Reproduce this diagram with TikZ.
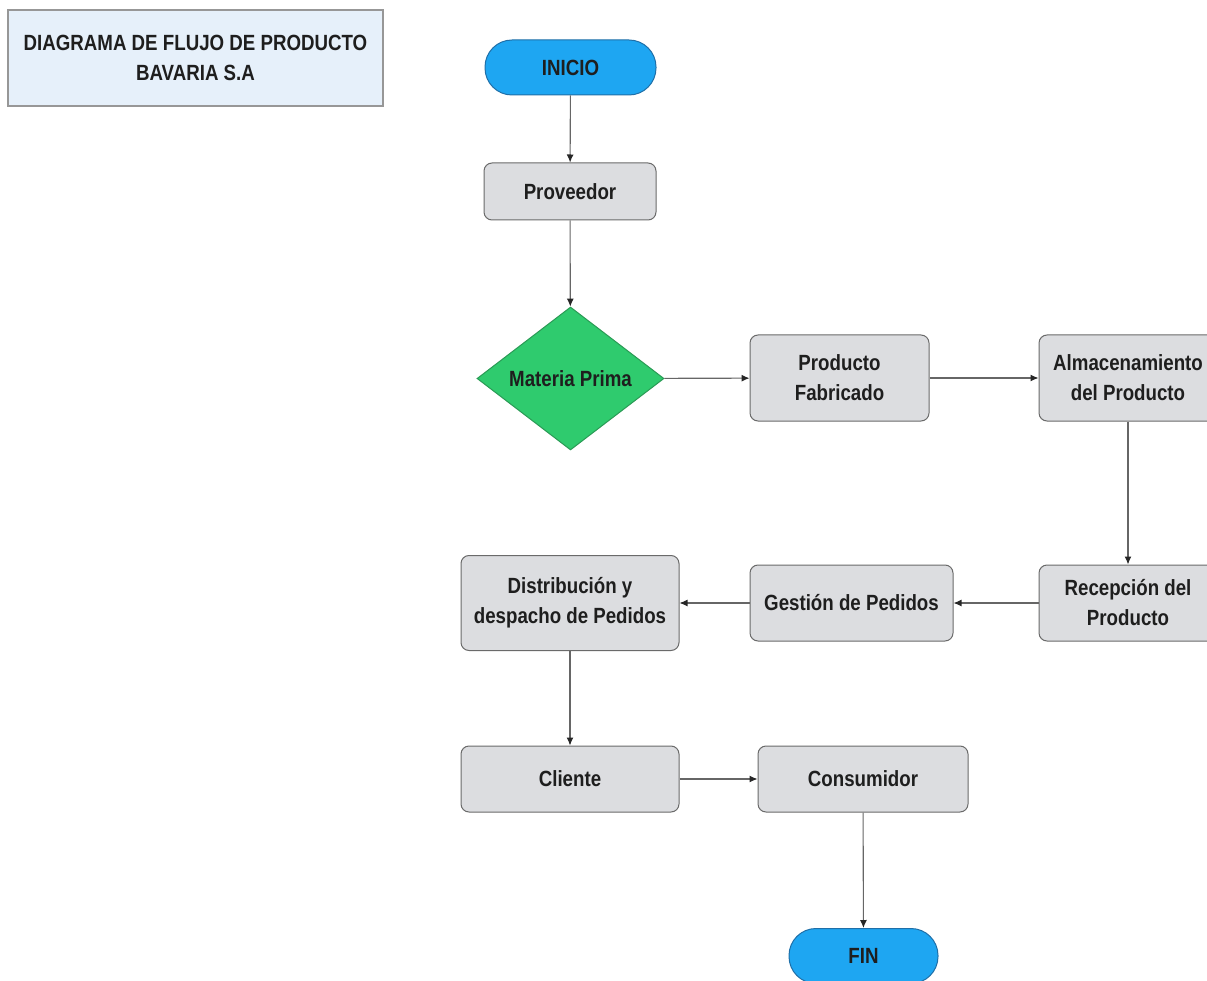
\documentclass[tikz,border=0pt]{standalone}
\usepackage{fontspec}
\setmainfont[FakeStretch=0.85]{Liberation Sans}
\usetikzlibrary{shapes.geometric,arrows.meta}
\definecolor{boxfill}{HTML}{DCDDE0}
\definecolor{boxline}{HTML}{6A6A6A}
\definecolor{termfill}{HTML}{1EA6F2}
\definecolor{termline}{HTML}{1F6FA8}
\definecolor{decfill}{HTML}{2FCB6E}
\definecolor{decline}{HTML}{2A9A55}
\definecolor{titlefill}{HTML}{E6F0FA}
\definecolor{txt}{HTML}{1E1E1E}
\definecolor{link}{HTML}{666666}
\tikzset{
  lbl/.style={font=\bfseries\fontsize{22}{30}\selectfont, text=txt, align=center, inner sep=0pt},
  procbox/.style={lbl, draw=boxline, fill=boxfill, line width=1pt, rounded corners=8pt, rectangle},
  termbox/.style={lbl, draw=termline, fill=termfill, line width=1pt, rounded corners=27pt, rectangle,
                  minimum height=55pt},
  decbox/.style={lbl, diamond, draw=decline, fill=decfill, line width=1pt},
  titlebox/.style={lbl, draw=boxline!70, fill=titlefill, line width=1.2pt},
  flow/.style={draw=link, line width=1.1pt, -{Latex[length=8pt,width=7pt,color=black!85]}}
}
\begin{document}
\begin{tikzpicture}[x=1pt,y=-1pt]
\useasboundingbox (0,0) rectangle (1207,981);

% heading
\node[titlebox, minimum width=375pt, minimum height=96pt] (title) at (195.5,58)
  {DIAGRAMA DE FLUJO DE PRODUCTO\\BAVARIA S.A};

% main column
\node[termbox, minimum width=171pt] (inicio) at (570.5,67.5) {INICIO};
\node[procbox, minimum width=172pt, minimum height=57pt] (prov) at (570,191.5) {Proveedor};
\node[decbox, minimum width=187pt, minimum height=143pt] (mp) at (570.5,378.5) {Materia Prima};
\node[procbox, minimum width=179pt, minimum height=86pt] (fab) at (839.5,378) {Producto\\Fabricado};
\node[procbox, minimum width=178pt, minimum height=86pt] (alm) at (1128,378) {Almacenamiento\\del Producto};
\node[procbox, minimum width=178pt, minimum height=76pt] (rec) at (1128,603) {Recepción del\\Producto};
\node[procbox, minimum width=203pt, minimum height=76pt] (ges) at (851.5,603) {Gestión de Pedidos};
\node[procbox, minimum width=218pt, minimum height=95pt] (dis) at (570,603) {Distribución y\\despacho de Pedidos};
\node[procbox, minimum width=218pt, minimum height=66pt] (cli) at (570,779) {Cliente};
\node[procbox, minimum width=210pt, minimum height=66pt] (con) at (863,779) {Consumidor};
\node[termbox, minimum width=149pt] (fin) at (863.5,956) {FIN};

% connectors
\draw[flow] (inicio) -- (prov);
\draw[flow] (prov) -- (mp);
\draw[flow] (mp) -- (fab);
\draw[flow] (fab) -- (alm);
\draw[flow] (alm) -- (rec);
\draw[flow] (rec) -- (ges);
\draw[flow] (ges) -- (dis);
\draw[flow] (dis) -- (cli);
\draw[flow] (cli) -- (con);
\draw[flow] (con) -- (fin);
\end{tikzpicture}
\end{document}
